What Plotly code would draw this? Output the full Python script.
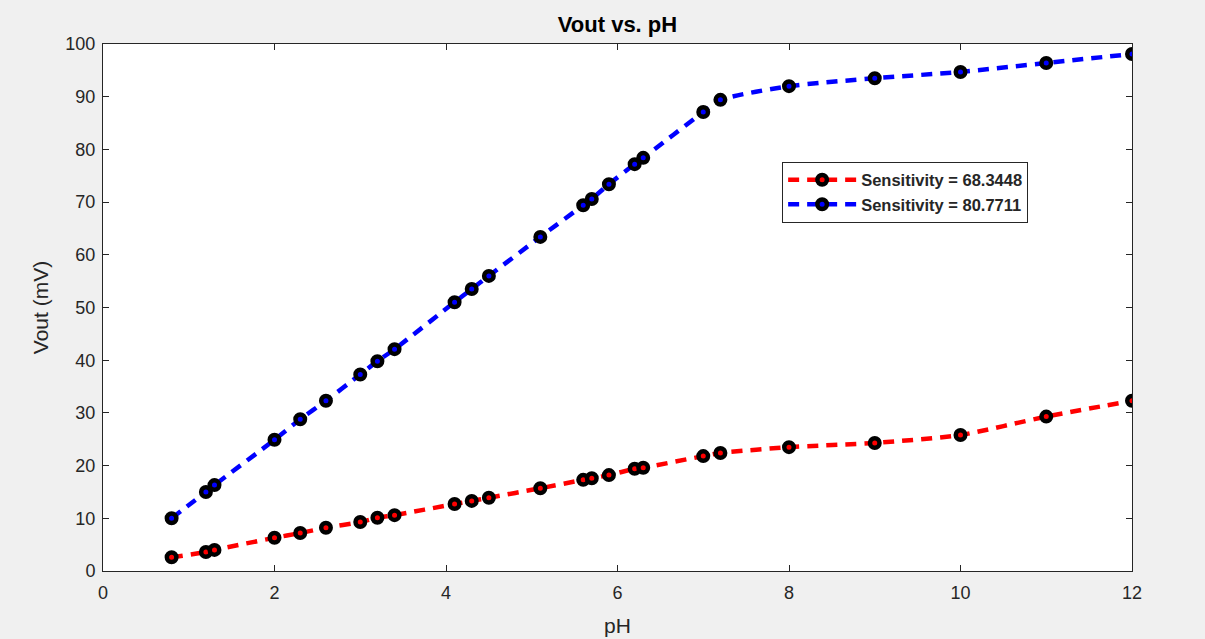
import plotly.graph_objects as go

ph = [0.8, 1.2, 1.3, 2, 2.3, 2.6, 3, 3.2, 3.4, 4.1, 4.3, 4.5, 5.1, 5.6, 5.7, 5.9,
      6.2, 6.3, 7, 7.2, 8, 9, 10, 11, 12]
vout_red = [2.6, 3.6, 4.0, 6.3, 7.2, 8.2, 9.3, 10.1, 10.6, 12.7, 13.3, 13.9, 15.7,
            17.3, 17.6, 18.2, 19.4, 19.6, 21.8, 22.4, 23.5, 24.3, 25.8, 29.3, 32.3]
vout_blue = [10.0, 15.0, 16.3, 24.9, 28.8, 32.3, 37.3, 39.8, 42.1, 51.0, 53.5, 56.0,
             63.4, 69.4, 70.6, 73.4, 77.2, 78.4, 87.1, 89.4, 92.0, 93.5, 94.7, 96.4, 98.1]
series_names = ["Sensitivity = 68.3448", "Sensitivity = 80.7711"]
x_ticks = [0, 2, 4, 6, 8, 10, 12]
y_ticks = [0, 10, 20, 30, 40, 50, 60, 70, 80, 90, 100]

FONT = "Liberation Sans, Arial"
GRAY = "#262626"

fig = go.Figure()
for name, ys, col in [(series_names[0], vout_red, "#ff0000"),
                      (series_names[1], vout_blue, "#0000ff")]:
    fig.add_trace(go.Scatter(
        x=ph, y=ys, name=name, mode="lines+markers",
        line=dict(color=col, width=4.5, dash="11px,8px", shape="spline", smoothing=0.6),
        marker=dict(symbol="circle", size=9.5, color=col, line=dict(color="black", width=4.5)),
    ))

axis_common = dict(
    showgrid=False, zeroline=False, showline=True, linecolor=GRAY, linewidth=1,
    mirror="ticks", ticks="inside", ticklen=6, tickcolor=GRAY, automargin=False,
    tickfont=dict(family=FONT, size=18, color=GRAY),
)
fig.update_xaxes(range=[0, 12], tickvals=x_ticks, ticklabelstandoff=5, **axis_common,
                 title=dict(text="pH", font=dict(family=FONT, size=21, color=GRAY), standoff=16))
fig.update_yaxes(range=[0, 100], tickvals=y_ticks, ticklabelstandoff=3, **axis_common,
                 title=dict(text="Vout (mV)", font=dict(family=FONT, size=21, color=GRAY), standoff=11))

fig.update_layout(
    width=1205, height=639,
    margin=dict(l=103, r=73, t=44, b=68),
    paper_bgcolor="#f0f0f0", plot_bgcolor="white",
    title=dict(text="<b>Vout vs. pH</b>", x=0.5, xref="paper", xanchor="center",
               y=1 - 24 / 639, yref="container", yanchor="middle",
               font=dict(family=FONT, size=22, color="black")),
    legend=dict(x=0.66, y=0.777, xanchor="left", yanchor="top",
                bgcolor="white", bordercolor=GRAY, borderwidth=1,
                font=dict(family=FONT, size=16.5, color=GRAY, weight="bold"),
                tracegroupgap=0, itemwidth=68),
    showlegend=True,
)
fig.write_html("out.html")
